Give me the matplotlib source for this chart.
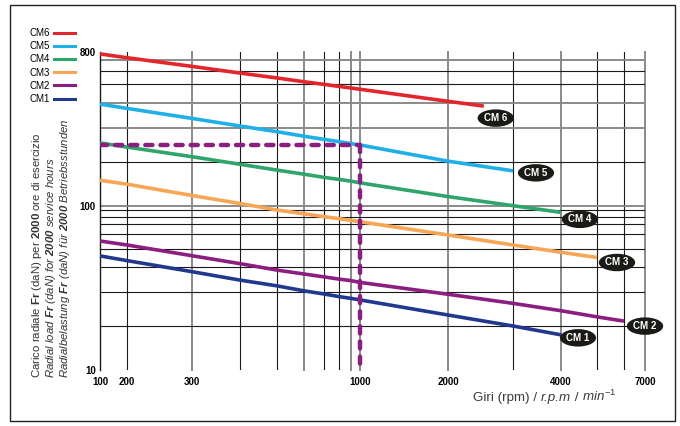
import numpy as np
import matplotlib
matplotlib.use('Agg')
import matplotlib.pyplot as plt
from matplotlib.lines import Line2D
from matplotlib.patches import Rectangle
from matplotlib.offsetbox import TextArea, HPacker, AnchoredOffsetbox
from matplotlib.ticker import FixedLocator, FixedFormatter, NullLocator

plt.rcParams['font.family'] = ['Liberation Sans', 'DejaVu Sans']
plt.rcParams['mathtext.fontset'] = 'custom'
plt.rcParams['mathtext.rm'] = 'Liberation Sans'
plt.rcParams['mathtext.it'] = 'Liberation Sans:italic'
plt.rcParams['mathtext.bf'] = 'Liberation Sans:bold'
plt.rcParams['mathtext.bfit'] = 'Liberation Sans:bold:italic'

# values: speed (rpm) -> radial load Fr (daN)
rpm_cm6 = [100, 200, 300, 400, 500, 600, 700, 800, 900, 1000, 2000, 2500]
fr_cm6 = [775, 727, 640, 583, 544, 516, 498, 486, 477, 470, 408, 386]

rpm_cm5 = [100, 200, 300, 400, 500, 600, 700, 800, 900, 1000, 2000, 3000]
fr_cm5 = [395, 376, 335, 307, 287, 272, 262, 255, 249, 245, 202, 174]

rpm_cm4 = [100, 200, 300, 400, 500, 600, 700, 800, 900, 1000, 2000, 3000, 4000]
fr_cm4 = [251, 239, 213, 193, 176, 165, 157, 152, 148, 144, 116, 100.5, 87]

rpm_cm3 = [100, 200, 300, 400, 500, 600, 700, 800, 900, 1000, 2000, 3000, 4000, 5000]
fr_cm3 = [150, 141, 118, 104, 91, 84.8, 80.6, 77.4, 75, 73.1, 59.3, 52.5, 48, 45]

rpm_cm2 = [100, 200, 300, 400, 500, 600, 700, 800, 900, 1000, 2000, 3000, 4000, 5000, 6000]
fr_cm2 = [55.1, 52.5, 46, 41.7, 38.6, 36.9, 35.7, 34.8, 34.2, 33.5, 29.2, 26.2, 24, 22.3, 21.2]

rpm_cm1 = [100, 200, 300, 400, 500, 600, 700, 800, 900, 1000, 2000, 3000, 4000]
fr_cm1 = [45.9, 43.3, 37.9, 34.4, 32.2, 30.4, 29.3, 28.4, 27.8, 27.3, 22.8, 20, 17.4]

# example reading: 1000 rpm -> Fr
example_rpm = 1000
example_fr = 245

x_ticks = [100, 200, 300, 1000, 2000, 4000, 7000]
y_ticks = [10, 100, 800]

# the printed grid is hand drawn, not a true log grid:
# grid values and where each one sits along the axis (pixels from the axis origin)
x_grid = [100, 200, 300, 400, 500, 600, 700, 800, 900, 1000, 2000, 3000, 4000, 5000, 6000, 7000]
x_grid_px = [0, 27, 92, 140, 177, 204, 224, 239, 251, 260, 348, 413, 461, 497, 524, 545]
x_grey = [300, 600, 900, 1000, 2000, 4000, 7000]

y_grid = [10, 20, 30, 40, 50, 60, 70, 80, 90, 100, 200, 300, 400, 500, 600, 700, 800]
y_grid_px = [0, 44, 78, 103, 121, 136, 146, 153, 159.5, 164, 208, 242, 267, 286, 299, 310, 318]
y_grey = [100, 300, 400, 700]


def grid_scale(values, px):
    lv = np.log10(values)
    pos = np.asarray(px, dtype=float) / px[-1]

    def fwd(v):
        return np.interp(np.log10(np.clip(v, 1e-6, None)), lv, pos)

    def inv(u):
        return 10 ** np.interp(u, pos, lv)

    return fwd, inv


fig = plt.figure(figsize=(6.8, 4.26), dpi=100)
ax = fig.add_axes([100 / 680, 1 - 370 / 426, 545 / 680, 318 / 426])
ax.set_xscale('function', functions=grid_scale(x_grid, x_grid_px))
ax.set_yscale('function', functions=grid_scale(y_grid, y_grid_px))
ax.set_xlim(100, 7000)
ax.set_ylim(10, 800)

for v in x_grid[1:]:
    if v in x_grey:
        ax.axvline(v, color='#8a8a88', lw=1.4, zorder=1, clip_on=False)
    else:
        ax.axvline(v, color='#1a1a1a', lw=0.8, zorder=1)
for v in y_grid[1:-1]:
    if v in y_grey:
        ax.axhline(v, color='#8a8a88', lw=1.4, zorder=1)
    else:
        ax.axhline(v, color='#1a1a1a', lw=0.8, zorder=1)

curves = [
    ('CM 1', rpm_cm1, fr_cm1, '#22388f', (17, -3)),
    ('CM 2', rpm_cm2, fr_cm2, '#8b1e80', (21, -5)),
    ('CM 3', rpm_cm3, fr_cm3, '#f7a654', (20, -5)),
    ('CM 4', rpm_cm4, fr_cm4, '#2ea66b', (19, -7)),
    ('CM 5', rpm_cm5, fr_cm5, '#1fb0e8', (23, -2)),
    ('CM 6', rpm_cm6, fr_cm6, '#e3262b', (12, -12)),
]
for name, x, y, col, off in curves:
    ax.plot(x, y, color=col, lw=2.6, solid_capstyle='butt', zorder=3)
    ax.annotate(name, xy=(x[-1], y[-1]), xytext=off, textcoords='offset pixels',
                ha='center', va='center', color='white', fontsize=7, fontweight='bold',
                bbox=dict(boxstyle='ellipse,pad=0.12', fc='#1c1a17', ec='none'), zorder=5)

dash = dict(color='#8b1e80', lw=3.2, ls=(0, (1.6, 1.8)), dash_capstyle='round', zorder=4)
ax.plot([100, example_rpm], [example_fr, example_fr], **dash)
ax.plot([example_rpm, example_rpm], [example_fr, 10], clip_on=False, **dash)

for s in ['top', 'right', 'bottom']:
    ax.spines[s].set_visible(False)
ax.spines['left'].set_color('#1a1a1a')
ax.spines['left'].set_linewidth(1.0)

ax.xaxis.set_major_locator(FixedLocator(x_ticks))
ax.xaxis.set_major_formatter(FixedFormatter([str(t) for t in x_ticks]))
ax.yaxis.set_major_locator(FixedLocator(y_ticks))
ax.yaxis.set_major_formatter(FixedFormatter([str(t) for t in y_ticks]))
ax.xaxis.set_minor_locator(NullLocator())
ax.yaxis.set_minor_locator(NullLocator())
ax.tick_params(length=0, labelsize=7)
ax.tick_params(axis='x', pad=5)
ax.tick_params(axis='y', pad=3)
for lab in ax.get_xticklabels() + ax.get_yticklabels():
    lab.set_fontweight('bold')

handles = [Line2D([], [], color=c[3], lw=2.2) for c in curves[::-1]]
labels = ['CM6', 'CM5', 'CM4', 'CM3', 'CM2', 'CM1']
fig.legend(handles, labels, loc='upper left', bbox_to_anchor=(29 / 680, 1 - 28 / 426),
           frameon=False, markerfirst=False, fontsize=7, handlelength=2.1,
           handletextpad=0.5, labelspacing=0.33, borderpad=0, borderaxespad=0)

ylab = [
    (37, r'Carico radiale $\mathbf{Fr}$ (daN) per $\mathbf{2000}$ ore di esercizio', 'normal'),
    (51, r'Radial load $\mathbfit{Fr}$ (daN) for $\mathbfit{2000}$ service hours', 'italic'),
    (65, r'Radialbelastung $\mathbfit{Fr}$ (daN) für $\mathbfit{2000}$ Betriebsstunden', 'italic'),
]
for xp, txt, st in ylab:
    fig.text(xp / 680, 1 - 378 / 426, txt, rotation=90, ha='center', va='bottom',
             fontsize=8.2, style=st, color='#333333')

# x label: mixed upright / italic pieces
xl_props = dict(fontsize=9.6, color='#3a3a3a')
parts = [
    TextArea('Giri (rpm) / ', textprops=xl_props),
    TextArea('r.p.m', textprops=dict(style='italic', **xl_props)),
    TextArea(' / ', textprops=xl_props),
    TextArea(r'$\mathit{min}^{-1}$', textprops=xl_props),
]
xl_box = HPacker(children=parts, align='baseline', pad=0, sep=0)
fig.add_artist(AnchoredOffsetbox(loc='center', child=xl_box, frameon=False, pad=0,
                                 borderpad=0, bbox_to_anchor=(545 / 680, 1 - 396 / 426),
                                 bbox_transform=fig.transFigure))

fig.patches.append(Rectangle((10 / 680, 1 - 421 / 426), 665 / 680, 416 / 426,
                             transform=fig.transFigure, fill=False, ec='#222222', lw=1.0))

fig.savefig('out.png', dpi=100)
